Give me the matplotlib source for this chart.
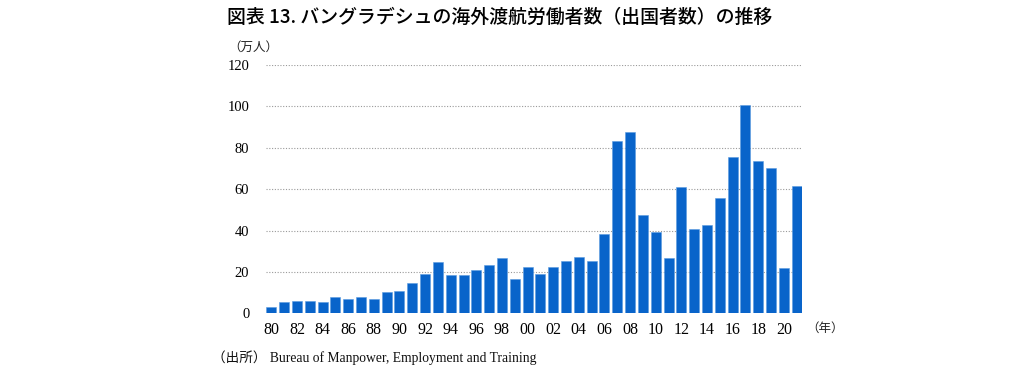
import matplotlib
matplotlib.use("Agg")
import matplotlib.pyplot as plt
import numpy as np

# Bangladesh overseas workers (10k persons), 1980-2021
years = list(range(1980, 2022))
workers = [3.2, 5.6, 6.1, 6.1, 5.6, 7.7, 7.1, 7.7, 6.8, 10.1,
           10.8, 14.7, 18.8, 24.6, 18.7, 18.7, 21.1, 23.2, 26.7, 16.8,
           22.2, 19.0, 22.5, 25.4, 27.3, 25.2, 38.2, 83.2, 87.5, 47.6,
           39.1, 26.8, 60.8, 40.9, 42.6, 55.6, 75.7, 100.8, 73.4, 70.0,
           21.7, 61.7]
x_labels = [f"{y % 100:02d}" for y in years]
y_ticks = [0, 20, 40, 60, 80, 100, 120]

title = "図表 13. バングラデシュの海外渡航労働者数（出国者数）の推移"
unit_label = "（万人）"
year_label = "（年）"
source = "（出所） Bureau of Manpower, Employment and Training"

serif = ["Liberation Serif", "Noto Sans CJK JP"]
cjk = ["Noto Sans CJK JP", "DejaVu Sans"]

fig = plt.figure(figsize=(10.24, 3.76), dpi=100)
ax = fig.add_axes([266 / 1024, 1 - 313.3 / 376, 536 / 1024, 248.3 / 376])

pos = np.arange(len(years))
ax.bar(pos, workers, width=0.78, color="#0964CA", edgecolor="#5B9BE0", linewidth=0.4, zorder=3)

ax.set_xlim(-0.42, len(years) - 1 + 0.42)
ax.set_ylim(0, 120)
ax.set_yticks(y_ticks)
ax.set_yticklabels([str(v) for v in y_ticks], family=serif, fontsize=10.5)
ax.set_xticks(pos[::2])
ax.set_xticklabels(x_labels[::2], family=serif, fontsize=11.5)
ax.tick_params(axis="both", length=0)
ax.tick_params(axis="y", pad=12)
ax.tick_params(axis="x", pad=6)
ax.grid(axis="y", color="#9a9a9a", linestyle=(0, (1, 1.5)), linewidth=0.8, zorder=0)
for s in ax.spines.values():
    s.set_visible(False)

fig.text(500 / 1024, 1 - 17 / 376, title, family=cjk, fontsize=13.6, fontweight="medium",
         ha="center", va="center")
fig.text(228 / 1024, 1 - 47 / 376, unit_label, family=cjk, fontsize=9, color="#222222",
         ha="left", va="center")
fig.text(806 / 1024, 1 - 328 / 376, year_label, family=cjk, fontsize=9, color="#222222",
         ha="left", va="center")
fig.text(212 / 1024, 1 - 358 / 376, source, family=serif, fontsize=9.8, color="#111111",
         ha="left", va="center")

fig.savefig("out.png", dpi=100, facecolor="white")
